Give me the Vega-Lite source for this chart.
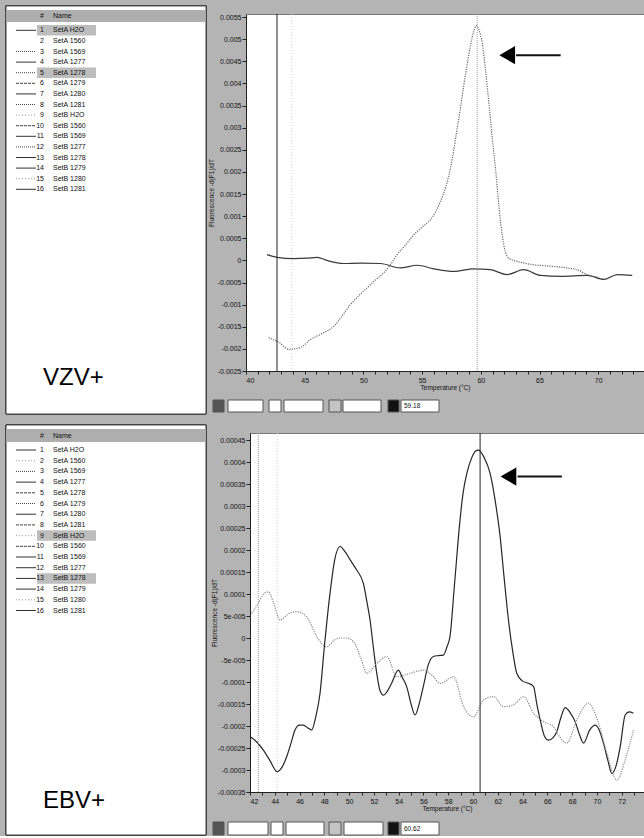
{
  "$schema": "https://vega.github.io/schema/vega-lite/v6.json",
  "background": "#b4b4b4",
  "padding": {"left": 5, "top": 5, "right": 0, "bottom": 0},
  "spacing": 9,
  "config": {
    "font": "Liberation Sans",
    "view": {"stroke": null},
    "axis": {"grid": false, "labelOverlap": false, "labelFont": "Liberation Sans", "titleFont": "Liberation Sans", "labelFontSize": 7, "titleFontSize": 6.5, "titleFontWeight": "normal", "labelColor": "#111", "titleColor": "#111", "tickColor": "#222", "domainColor": "#222"}
  },
  "datasets": {
    "one": [{"id": 1}],
    "listTop": [
      {"n": 1, "name": "SetA H2O", "ln": "solid", "sel": true},
      {"n": 2, "name": "SetA 1560", "ln": "none", "sel": false},
      {"n": 3, "name": "SetA 1569", "ln": "dotted", "sel": false},
      {"n": 4, "name": "SetA 1277", "ln": "solid", "sel": false},
      {"n": 5, "name": "SetA 1278", "ln": "dotted", "sel": true},
      {"n": 6, "name": "SetA 1279", "ln": "dashed", "sel": false},
      {"n": 7, "name": "SetA 1280", "ln": "solid", "sel": false},
      {"n": 8, "name": "SetA 1281", "ln": "dotted", "sel": false},
      {"n": 9, "name": "SetB H2O", "ln": "faint", "sel": false},
      {"n": 10, "name": "SetB 1560", "ln": "dashed", "sel": false},
      {"n": 11, "name": "SetB 1569", "ln": "solid", "sel": false},
      {"n": 12, "name": "SetB 1277", "ln": "dotted", "sel": false},
      {"n": 13, "name": "SetB 1278", "ln": "solid", "sel": false},
      {"n": 14, "name": "SetB 1279", "ln": "solid", "sel": false},
      {"n": 15, "name": "SetB 1280", "ln": "faint", "sel": false},
      {"n": 16, "name": "SetB 1281", "ln": "solid", "sel": false}
    ],
    "listBot": [
      {"n": 1, "name": "SetA H2O", "ln": "solid", "sel": false},
      {"n": 2, "name": "SetA 1560", "ln": "faint", "sel": false},
      {"n": 3, "name": "SetA 1569", "ln": "dotted", "sel": false},
      {"n": 4, "name": "SetA 1277", "ln": "solid", "sel": false},
      {"n": 5, "name": "SetA 1278", "ln": "dashed", "sel": false},
      {"n": 6, "name": "SetA 1279", "ln": "dotted", "sel": false},
      {"n": 7, "name": "SetA 1280", "ln": "solid", "sel": false},
      {"n": 8, "name": "SetA 1281", "ln": "dashed", "sel": false},
      {"n": 9, "name": "SetB H2O", "ln": "faint", "sel": true},
      {"n": 10, "name": "SetB 1560", "ln": "dashed", "sel": false},
      {"n": 11, "name": "SetB 1569", "ln": "solid", "sel": false},
      {"n": 12, "name": "SetB 1277", "ln": "solid", "sel": false},
      {"n": 13, "name": "SetB 1278", "ln": "solid", "sel": true},
      {"n": 14, "name": "SetB 1279", "ln": "solid", "sel": false},
      {"n": 15, "name": "SetB 1280", "ln": "faint", "sel": false},
      {"n": 16, "name": "SetB 1281", "ln": "solid", "sel": false}
    ],
    "curvesTop": [
      {"s": "SetA 1278", "T": 41.93, "v": -0.00175},
      {"s": "SetA 1278", "T": 42.8, "v": -0.00185},
      {"s": "SetA 1278", "T": 43.64, "v": -0.00201},
      {"s": "SetA 1278", "T": 44.63, "v": -0.00197},
      {"s": "SetA 1278", "T": 45.48, "v": -0.00179},
      {"s": "SetA 1278", "T": 46.5, "v": -0.00165},
      {"s": "SetA 1278", "T": 47.47, "v": -0.00149},
      {"s": "SetA 1278", "T": 48.2, "v": -0.00125},
      {"s": "SetA 1278", "T": 48.89, "v": -0.001},
      {"s": "SetA 1278", "T": 49.6, "v": -0.0008},
      {"s": "SetA 1278", "T": 50.31, "v": -0.00062},
      {"s": "SetA 1278", "T": 51.0, "v": -0.00045},
      {"s": "SetA 1278", "T": 51.73, "v": -0.00028},
      {"s": "SetA 1278", "T": 52.3, "v": -0.0001},
      {"s": "SetA 1278", "T": 52.87, "v": 0.00013},
      {"s": "SetA 1278", "T": 53.6, "v": 0.00035},
      {"s": "SetA 1278", "T": 54.29, "v": 0.00058},
      {"s": "SetA 1278", "T": 55.0, "v": 0.00075},
      {"s": "SetA 1278", "T": 55.71, "v": 0.00092},
      {"s": "SetA 1278", "T": 56.2, "v": 0.00112},
      {"s": "SetA 1278", "T": 56.56, "v": 0.00133},
      {"s": "SetA 1278", "T": 57.0, "v": 0.00165},
      {"s": "SetA 1278", "T": 57.41, "v": 0.00208},
      {"s": "SetA 1278", "T": 57.7, "v": 0.0025},
      {"s": "SetA 1278", "T": 57.98, "v": 0.00298},
      {"s": "SetA 1278", "T": 58.3, "v": 0.0035},
      {"s": "SetA 1278", "T": 58.55, "v": 0.00396},
      {"s": "SetA 1278", "T": 58.85, "v": 0.00445},
      {"s": "SetA 1278", "T": 59.12, "v": 0.00486},
      {"s": "SetA 1278", "T": 59.4, "v": 0.00518},
      {"s": "SetA 1278", "T": 59.63, "v": 0.00531},
      {"s": "SetA 1278", "T": 59.85, "v": 0.0052},
      {"s": "SetA 1278", "T": 60.11, "v": 0.00494},
      {"s": "SetA 1278", "T": 60.4, "v": 0.0043},
      {"s": "SetA 1278", "T": 60.68, "v": 0.00358},
      {"s": "SetA 1278", "T": 61.0, "v": 0.0027},
      {"s": "SetA 1278", "T": 61.25, "v": 0.00208},
      {"s": "SetA 1278", "T": 61.55, "v": 0.0012},
      {"s": "SetA 1278", "T": 61.82, "v": 0.00058},
      {"s": "SetA 1278", "T": 62.1, "v": 0.00018},
      {"s": "SetA 1278", "T": 62.39, "v": 0.00005},
      {"s": "SetA 1278", "T": 63.38, "v": -0.00004},
      {"s": "SetA 1278", "T": 64.52, "v": -0.0001},
      {"s": "SetA 1278", "T": 65.94, "v": -0.00013},
      {"s": "SetA 1278", "T": 67.36, "v": -0.00017},
      {"s": "SetA 1278", "T": 68.21, "v": -0.00021},
      {"s": "SetA 1278", "T": 69.06, "v": -0.00032},
      {"s": "SetA 1278", "T": 70.0, "v": -0.00038},
      {"s": "SetA H2O", "T": 41.79, "v": 0.00013},
      {"s": "SetA H2O", "T": 42.64, "v": 0.00007},
      {"s": "SetA H2O", "T": 44.06, "v": 0.00004},
      {"s": "SetA H2O", "T": 45.2, "v": 0.00005},
      {"s": "SetA H2O", "T": 46.05, "v": 0.00007},
      {"s": "SetA H2O", "T": 46.9, "v": 0.0},
      {"s": "SetA H2O", "T": 48.32, "v": -0.00007},
      {"s": "SetA H2O", "T": 49.74, "v": -0.00006},
      {"s": "SetA H2O", "T": 51.45, "v": -0.00007},
      {"s": "SetA H2O", "T": 53.15, "v": -0.00017},
      {"s": "SetA H2O", "T": 54.57, "v": -0.00011},
      {"s": "SetA H2O", "T": 55.99, "v": -0.00019},
      {"s": "SetA H2O", "T": 57.7, "v": -0.00025},
      {"s": "SetA H2O", "T": 59.4, "v": -0.00019},
      {"s": "SetA H2O", "T": 60.82, "v": -0.00021},
      {"s": "SetA H2O", "T": 62.24, "v": -0.00032},
      {"s": "SetA H2O", "T": 63.66, "v": -0.00021},
      {"s": "SetA H2O", "T": 65.09, "v": -0.00034},
      {"s": "SetA H2O", "T": 66.79, "v": -0.00036},
      {"s": "SetA H2O", "T": 69.06, "v": -0.00034},
      {"s": "SetA H2O", "T": 70.48, "v": -0.00043},
      {"s": "SetA H2O", "T": 71.62, "v": -0.00032},
      {"s": "SetA H2O", "T": 72.9, "v": -0.00034}
    ],
    "curvesBot": [
      {"s": "SetB 1278", "T": 42.0, "v": -0.000224},
      {"s": "SetB 1278", "T": 42.6, "v": -0.000238},
      {"s": "SetB 1278", "T": 43.08, "v": -0.000255},
      {"s": "SetB 1278", "T": 43.6, "v": -0.000278},
      {"s": "SetB 1278", "T": 44.2, "v": -0.000304},
      {"s": "SetB 1278", "T": 44.6, "v": -0.000293},
      {"s": "SetB 1278", "T": 44.96, "v": -0.00027},
      {"s": "SetB 1278", "T": 45.3, "v": -0.00024},
      {"s": "SetB 1278", "T": 45.63, "v": -0.000209},
      {"s": "SetB 1278", "T": 46.0, "v": -0.000198},
      {"s": "SetB 1278", "T": 46.31, "v": -0.000198},
      {"s": "SetB 1278", "T": 46.7, "v": -0.000205},
      {"s": "SetB 1278", "T": 46.98, "v": -0.000209},
      {"s": "SetB 1278", "T": 47.3, "v": -0.00018},
      {"s": "SetB 1278", "T": 47.65, "v": -0.000126},
      {"s": "SetB 1278", "T": 48.0, "v": -0.00002},
      {"s": "SetB 1278", "T": 48.46, "v": 0.000102},
      {"s": "SetB 1278", "T": 48.85, "v": 0.00018},
      {"s": "SetB 1278", "T": 49.27, "v": 0.000208},
      {"s": "SetB 1278", "T": 49.7, "v": 0.000195},
      {"s": "SetB 1278", "T": 50.1, "v": 0.000177},
      {"s": "SetB 1278", "T": 50.6, "v": 0.000155},
      {"s": "SetB 1278", "T": 51.15, "v": 0.000124},
      {"s": "SetB 1278", "T": 51.45, "v": 0.00008},
      {"s": "SetB 1278", "T": 51.69, "v": 0.000041},
      {"s": "SetB 1278", "T": 51.95, "v": -0.00002},
      {"s": "SetB 1278", "T": 52.23, "v": -0.00008},
      {"s": "SetB 1278", "T": 52.5, "v": -0.00012},
      {"s": "SetB 1278", "T": 52.77, "v": -0.00013},
      {"s": "SetB 1278", "T": 53.1, "v": -0.00012},
      {"s": "SetB 1278", "T": 53.43, "v": -0.000103},
      {"s": "SetB 1278", "T": 53.97, "v": -0.000073},
      {"s": "SetB 1278", "T": 54.3, "v": -0.00009},
      {"s": "SetB 1278", "T": 54.64, "v": -0.00011},
      {"s": "SetB 1278", "T": 55.0, "v": -0.00015},
      {"s": "SetB 1278", "T": 55.32, "v": -0.000175},
      {"s": "SetB 1278", "T": 55.65, "v": -0.00015},
      {"s": "SetB 1278", "T": 55.99, "v": -0.00011},
      {"s": "SetB 1278", "T": 56.4, "v": -0.00006},
      {"s": "SetB 1278", "T": 56.8, "v": -0.000042},
      {"s": "SetB 1278", "T": 57.2, "v": -0.00004},
      {"s": "SetB 1278", "T": 57.6, "v": -0.000039},
      {"s": "SetB 1278", "T": 57.9, "v": -0.00002},
      {"s": "SetB 1278", "T": 58.14, "v": 0.000003},
      {"s": "SetB 1278", "T": 58.5, "v": 0.00012},
      {"s": "SetB 1278", "T": 58.95, "v": 0.000268},
      {"s": "SetB 1278", "T": 59.2, "v": 0.00033},
      {"s": "SetB 1278", "T": 59.5, "v": 0.000374},
      {"s": "SetB 1278", "T": 59.9, "v": 0.00041},
      {"s": "SetB 1278", "T": 60.2, "v": 0.000425},
      {"s": "SetB 1278", "T": 60.44, "v": 0.000427},
      {"s": "SetB 1278", "T": 60.9, "v": 0.00041},
      {"s": "SetB 1278", "T": 61.38, "v": 0.000374},
      {"s": "SetB 1278", "T": 61.8, "v": 0.00031},
      {"s": "SetB 1278", "T": 62.19, "v": 0.00023},
      {"s": "SetB 1278", "T": 62.5, "v": 0.00014},
      {"s": "SetB 1278", "T": 62.86, "v": 0.000041},
      {"s": "SetB 1278", "T": 63.2, "v": -0.00003},
      {"s": "SetB 1278", "T": 63.53, "v": -0.00008},
      {"s": "SetB 1278", "T": 64.0, "v": -0.000098},
      {"s": "SetB 1278", "T": 64.48, "v": -0.000103},
      {"s": "SetB 1278", "T": 64.88, "v": -0.00011},
      {"s": "SetB 1278", "T": 65.15, "v": -0.00015},
      {"s": "SetB 1278", "T": 65.42, "v": -0.000186},
      {"s": "SetB 1278", "T": 65.75, "v": -0.000222},
      {"s": "SetB 1278", "T": 66.09, "v": -0.000232},
      {"s": "SetB 1278", "T": 66.4, "v": -0.000228},
      {"s": "SetB 1278", "T": 66.76, "v": -0.000213},
      {"s": "SetB 1278", "T": 67.1, "v": -0.00018},
      {"s": "SetB 1278", "T": 67.44, "v": -0.000158},
      {"s": "SetB 1278", "T": 67.85, "v": -0.00017},
      {"s": "SetB 1278", "T": 68.24, "v": -0.00019},
      {"s": "SetB 1278", "T": 68.6, "v": -0.00022},
      {"s": "SetB 1278", "T": 68.92, "v": -0.000239},
      {"s": "SetB 1278", "T": 69.4, "v": -0.00021},
      {"s": "SetB 1278", "T": 69.86, "v": -0.000198},
      {"s": "SetB 1278", "T": 70.2, "v": -0.00021},
      {"s": "SetB 1278", "T": 70.53, "v": -0.000239},
      {"s": "SetB 1278", "T": 70.9, "v": -0.00028},
      {"s": "SetB 1278", "T": 71.2, "v": -0.000308},
      {"s": "SetB 1278", "T": 71.55, "v": -0.00029},
      {"s": "SetB 1278", "T": 71.88, "v": -0.000247},
      {"s": "SetB 1278", "T": 72.28, "v": -0.000175},
      {"s": "SetB 1278", "T": 72.6, "v": -0.000168},
      {"s": "SetB 1278", "T": 72.95, "v": -0.000171},
      {"s": "SetB H2O", "T": 42.13, "v": 0.000056},
      {"s": "SetB H2O", "T": 42.67, "v": 0.000079},
      {"s": "SetB H2O", "T": 43.1, "v": 0.0001},
      {"s": "SetB H2O", "T": 43.48, "v": 0.000105},
      {"s": "SetB H2O", "T": 43.9, "v": 0.00008},
      {"s": "SetB H2O", "T": 44.42, "v": 0.000041},
      {"s": "SetB H2O", "T": 45.1, "v": 0.000055},
      {"s": "SetB H2O", "T": 45.77, "v": 0.00006},
      {"s": "SetB H2O", "T": 46.58, "v": 0.000048},
      {"s": "SetB H2O", "T": 47.39, "v": 0.000003},
      {"s": "SetB H2O", "T": 48.19, "v": -0.00002},
      {"s": "SetB H2O", "T": 48.8, "v": -0.000005},
      {"s": "SetB H2O", "T": 49.27, "v": 0.0},
      {"s": "SetB H2O", "T": 49.8, "v": 0.0},
      {"s": "SetB H2O", "T": 50.35, "v": -0.000008},
      {"s": "SetB H2O", "T": 51.0, "v": -0.00005},
      {"s": "SetB H2O", "T": 51.42, "v": -0.00008},
      {"s": "SetB H2O", "T": 52.23, "v": -0.000058},
      {"s": "SetB H2O", "T": 53.04, "v": -0.000042},
      {"s": "SetB H2O", "T": 53.85, "v": -0.000088},
      {"s": "SetB H2O", "T": 54.93, "v": -0.00008},
      {"s": "SetB H2O", "T": 56.01, "v": -0.000073},
      {"s": "SetB H2O", "T": 56.7, "v": -0.000085},
      {"s": "SetB H2O", "T": 57.36, "v": -0.000103},
      {"s": "SetB H2O", "T": 58.43, "v": -0.000088},
      {"s": "SetB H2O", "T": 59.24, "v": -0.000156},
      {"s": "SetB H2O", "T": 60.04, "v": -0.000179},
      {"s": "SetB H2O", "T": 60.85, "v": -0.000141},
      {"s": "SetB H2O", "T": 61.65, "v": -0.000133},
      {"s": "SetB H2O", "T": 62.46, "v": -0.000156},
      {"s": "SetB H2O", "T": 63.27, "v": -0.000152},
      {"s": "SetB H2O", "T": 64.08, "v": -0.000133},
      {"s": "SetB H2O", "T": 64.88, "v": -0.000171},
      {"s": "SetB H2O", "T": 65.69, "v": -0.00019},
      {"s": "SetB H2O", "T": 66.5, "v": -0.000202},
      {"s": "SetB H2O", "T": 67.0, "v": -0.000225},
      {"s": "SetB H2O", "T": 67.57, "v": -0.000239},
      {"s": "SetB H2O", "T": 68.38, "v": -0.000186},
      {"s": "SetB H2O", "T": 69.32, "v": -0.000148},
      {"s": "SetB H2O", "T": 70.13, "v": -0.000194},
      {"s": "SetB H2O", "T": 70.8, "v": -0.000262},
      {"s": "SetB H2O", "T": 71.61, "v": -0.000323},
      {"s": "SetB H2O", "T": 72.28, "v": -0.000277},
      {"s": "SetB H2O", "T": 72.95, "v": -0.000209}
    ],
    "statusTop": [
      {"k": "dark", "a": 4, "b": 15},
      {"k": "white", "a": 19, "b": 54},
      {"k": "white", "a": 60, "b": 72},
      {"k": "white", "a": 75, "b": 114},
      {"k": "gray", "a": 120, "b": 132},
      {"k": "white", "a": 134, "b": 172},
      {"k": "black", "a": 179, "b": 190},
      {"k": "white", "a": 192, "b": 230, "t": "59.18"}
    ],
    "statusBot": [
      {"k": "dark", "a": 4, "b": 15},
      {"k": "white", "a": 19, "b": 59},
      {"k": "white", "a": 62, "b": 74},
      {"k": "white", "a": 77, "b": 115},
      {"k": "gray", "a": 120, "b": 132},
      {"k": "white", "a": 135, "b": 174},
      {"k": "black", "a": 179, "b": 190},
      {"k": "white", "a": 192, "b": 230, "t": "60.62"}
    ]
  },
  "vconcat": [
    {
      "spacing": 0,
      "hconcat": [
        {
          "width": 200, "height": 400,
          "data": {"name": "listTop"},
          "layer": [
            {"mark": {"type": "rect", "fill": "#ffffff", "stroke": "#444", "strokeWidth": 1},
             "encoding": {"x": {"datum": 0, "type": "quantitative", "scale": {"domain": [0, 200], "nice": false}, "axis": null}, "x2": {"datum": 200},
                          "y": {"datum": -1.3, "type": "quantitative", "scale": {"domain": [-0.54, 37.2], "nice": false, "zero": false, "reverse": true}, "axis": null}, "y2": {"datum": 37.2}}},
            {"mark": {"type": "rect", "fill": "#aeaeae"},
             "encoding": {"x": {"datum": 0.5, "type": "quantitative"}, "x2": {"datum": 199.5}, "y": {"datum": -0.92, "type": "quantitative"}, "y2": {"datum": 0.2}}},
            {"mark": {"type": "rule", "strokeWidth": 10.5, "color": "#bdbdbd"}, "transform": [{"filter": "datum.sel"}],
             "encoding": {"x": {"datum": 31, "type": "quantitative"}, "x2": {"datum": 90}, "y": {"field": "n", "type": "quantitative"}}},
            {"mark": {"type": "rule", "strokeWidth": 1},
             "encoding": {"x": {"datum": 10, "type": "quantitative"}, "x2": {"datum": 30}, "y": {"field": "n", "type": "quantitative"},
                          "strokeDash": {"field": "ln", "type": "nominal", "scale": {"domain": ["solid", "dotted", "dashed", "faint", "none"], "range": [[1, 0], [1, 1], [3, 1], [1, 2], [1, 0]]}, "legend": null},
                          "color": {"field": "ln", "type": "nominal", "scale": {"domain": ["solid", "dotted", "dashed", "faint", "none"], "range": ["#333", "#444", "#444", "#999", "#ffffff"]}, "legend": null}}},
            {"mark": {"type": "text", "align": "right", "baseline": "middle", "fontSize": 7, "color": "#111"},
             "encoding": {"x": {"datum": 38, "type": "quantitative"}, "y": {"field": "n", "type": "quantitative"}, "text": {"field": "n"}}},
            {"mark": {"type": "text", "align": "left", "baseline": "middle", "fontSize": 7, "color": "#111"},
             "encoding": {"x": {"datum": 47, "type": "quantitative"}, "y": {"field": "n", "type": "quantitative"}, "text": {"field": "name"}}},
            {"data": {"values": [{"h": "#", "x": 34}, {"h": "Name", "x": 47}]},
             "mark": {"type": "text", "align": "left", "baseline": "middle", "fontSize": 7, "color": "#111"},
             "encoding": {"x": {"field": "x", "type": "quantitative"}, "y": {"datum": -0.35, "type": "quantitative"}, "text": {"field": "h"}}},
            {"data": {"values": [{"label": "VZV+"}]},
             "mark": {"type": "text", "align": "left", "baseline": "middle", "fontSize": 24, "color": "#000"},
             "encoding": {"x": {"datum": 37, "type": "quantitative"}, "y": {"datum": 33.8, "type": "quantitative"}, "text": {"field": "label"}}}
          ]
        },
        {
          "width": 398, "height": 357,
          "view": {"fill": "white", "stroke": "#777"},
          "resolve": {"scale": {"x": "independent", "y": "independent"}},
          "layer": [
            {
              "data": {"name": "curvesTop"},
              "layer": [
                {"transform": [{"filter": "datum.s == 'SetA H2O'"}],
                 "mark": {"type": "line", "strokeWidth": 1.2, "interpolate": "monotone", "color": "#3a3a3a"},
                 "encoding": {
                   "x": {"field": "T", "type": "quantitative", "scale": {"domain": [40, 73.9], "nice": false, "zero": false},
                         "axis": {"title": "Temperature (°C)", "values": [40,41,42,43,44,45,46,47,48,49,50,51,52,53,54,55,56,57,58,59,60,61,62,63,64,65,66,67,68,69,70,71,72,73], "tickCount": 100, "labelExpr": "datum.value % 5 == 0 ? '' + datum.value : ''", "labelOverlap": false, "labelBound": false, "tickSize": 3, "labelPadding": 2, "titlePadding": 1}},
                   "y": {"field": "v", "type": "quantitative", "scale": {"domain": [-0.0025, 0.00557], "nice": false, "zero": false},
                         "axis": {"title": "Fluorescence -d(F1)/dT", "values": [0.0055,0.005,0.0045,0.004,0.0035,0.003,0.0025,0.002,0.0015,0.001,0.0005,0,-0.0005,-0.001,-0.0015,-0.002,-0.0025], "tickCount": 100, "labelExpr": "'' + datum.value", "labelOverlap": false, "labelBound": false, "tickSize": 4, "labelPadding": 1, "minExtent": 30, "maxExtent": 30, "titlePadding": 2}}
                 }},
                {"transform": [{"filter": "datum.s == 'SetA 1278'"}],
                 "mark": {"type": "line", "strokeWidth": 1.2, "interpolate": "monotone", "color": "#6a6a6a", "strokeDash": [1.2, 1.2]},
                 "encoding": {"x": {"field": "T", "type": "quantitative"}, "y": {"field": "v", "type": "quantitative"}}},
                {"data": {"name": "one"}, "mark": {"type": "rule", "color": "#222", "strokeWidth": 1}, "encoding": {"x": {"datum": 42.64, "type": "quantitative"}}},
                {"data": {"name": "one"}, "mark": {"type": "rule", "color": "#cfcfcf", "strokeWidth": 1, "strokeDash": [1, 2]}, "encoding": {"x": {"datum": 43.9, "type": "quantitative"}}},
                {"data": {"name": "one"}, "mark": {"type": "rule", "color": "#a0a0a0", "strokeWidth": 1, "strokeDash": [1, 1]}, "encoding": {"x": {"datum": 59.69, "type": "quantitative"}}},
                {"data": {"name": "one"}, "mark": {"type": "rule", "color": "#111", "strokeWidth": 2}, "encoding": {"x": {"datum": 63.0, "type": "quantitative"}, "x2": {"datum": 66.8}, "y": {"datum": 0.00464, "type": "quantitative"}}},
                {"data": {"name": "one"}, "mark": {"type": "point", "shape": "triangle-left", "filled": true, "color": "#000", "size": 330, "opacity": 1}, "encoding": {"x": {"datum": 62.25, "type": "quantitative"}, "y": {"datum": 0.00464, "type": "quantitative"}}}
              ]
            },
            {
              "data": {"name": "statusTop"},
              "layer": [
                {"mark": {"type": "rect", "stroke": "#555", "strokeWidth": 1},
                 "encoding": {"x": {"field": "a", "type": "quantitative", "scale": {"domain": [37, 435], "nice": false, "zero": false}, "axis": null}, "x2": {"field": "b"},
                              "y": {"datum": -29, "type": "quantitative", "scale": {"domain": [0, 357], "nice": false, "zero": false}, "axis": null}, "y2": {"datum": -41},
                              "fill": {"field": "k", "type": "nominal", "scale": {"domain": ["dark", "white", "gray", "black"], "range": ["#555", "#ffffff", "#c4c4c4", "#111"]}, "legend": null}}},
                {"transform": [{"filter": "datum.t"}],
                 "mark": {"type": "text", "align": "left", "baseline": "middle", "fontSize": 6.5, "dx": 3, "color": "#111"},
                 "encoding": {"x": {"field": "a", "type": "quantitative"}, "y": {"datum": -35, "type": "quantitative"}, "text": {"field": "t"}}}
              ]
            }
          ]
        }
      ]
    },
    {
      "spacing": 3,
      "hconcat": [
        {
          "width": 200, "height": 402,
          "data": {"name": "listBot"},
          "layer": [
            {"mark": {"type": "rect", "fill": "#ffffff", "stroke": "#444", "strokeWidth": 1},
             "encoding": {"x": {"datum": 0, "type": "quantitative", "scale": {"domain": [0, 200], "nice": false}, "axis": null}, "x2": {"datum": 200},
                          "y": {"datum": -1.34, "type": "quantitative", "scale": {"domain": [-0.59, 36.98], "nice": false, "zero": false, "reverse": true}, "axis": null}, "y2": {"datum": 36.98}}},
            {"mark": {"type": "rect", "fill": "#aeaeae"},
             "encoding": {"x": {"datum": 0.5, "type": "quantitative"}, "x2": {"datum": 199.5}, "y": {"datum": -0.92, "type": "quantitative"}, "y2": {"datum": 0.2}}},
            {"mark": {"type": "rule", "strokeWidth": 10.5, "color": "#bdbdbd"}, "transform": [{"filter": "datum.sel"}],
             "encoding": {"x": {"datum": 31, "type": "quantitative"}, "x2": {"datum": 90}, "y": {"field": "n", "type": "quantitative"}}},
            {"mark": {"type": "rule", "strokeWidth": 1},
             "encoding": {"x": {"datum": 10, "type": "quantitative"}, "x2": {"datum": 30}, "y": {"field": "n", "type": "quantitative"},
                          "strokeDash": {"field": "ln", "type": "nominal", "scale": {"domain": ["solid", "dotted", "dashed", "faint", "none"], "range": [[1, 0], [1, 1], [3, 1], [1, 2], [1, 0]]}, "legend": null},
                          "color": {"field": "ln", "type": "nominal", "scale": {"domain": ["solid", "dotted", "dashed", "faint", "none"], "range": ["#333", "#444", "#444", "#999", "#ffffff"]}, "legend": null}}},
            {"mark": {"type": "text", "align": "right", "baseline": "middle", "fontSize": 7, "color": "#111"},
             "encoding": {"x": {"datum": 38, "type": "quantitative"}, "y": {"field": "n", "type": "quantitative"}, "text": {"field": "n"}}},
            {"mark": {"type": "text", "align": "left", "baseline": "middle", "fontSize": 7, "color": "#111"},
             "encoding": {"x": {"datum": 47, "type": "quantitative"}, "y": {"field": "n", "type": "quantitative"}, "text": {"field": "name"}}},
            {"data": {"values": [{"h": "#", "x": 34}, {"h": "Name", "x": 47}]},
             "mark": {"type": "text", "align": "left", "baseline": "middle", "fontSize": 7, "color": "#111"},
             "encoding": {"x": {"field": "x", "type": "quantitative"}, "y": {"datum": -0.35, "type": "quantitative"}, "text": {"field": "h"}}},
            {"data": {"values": [{"label": "EBV+"}]},
             "mark": {"type": "text", "align": "left", "baseline": "middle", "fontSize": 24, "color": "#000"},
             "encoding": {"x": {"datum": 37, "type": "quantitative"}, "y": {"datum": 33.8, "type": "quantitative"}, "text": {"field": "label"}}}
          ]
        },
        {
          "width": 394, "height": 359,
          "view": {"fill": "white", "stroke": "#777"},
          "resolve": {"scale": {"x": "independent", "y": "independent"}},
          "layer": [
            {
              "data": {"name": "curvesBot"},
              "layer": [
                {"transform": [{"filter": "datum.s == 'SetB 1278'"}],
                 "mark": {"type": "line", "strokeWidth": 1.2, "interpolate": "monotone", "color": "#262626"},
                 "encoding": {
                   "x": {"field": "T", "type": "quantitative", "scale": {"domain": [42, 73.8], "nice": false, "zero": false},
                         "axis": {"title": "Temperature (°C)", "values": [42,43,44,45,46,47,48,49,50,51,52,53,54,55,56,57,58,59,60,61,62,63,64,65,66,67,68,69,70,71,72,73], "tickCount": 100, "labelExpr": "datum.value % 2 == 0 ? '' + datum.value : ''", "labelOverlap": false, "labelBound": false, "tickSize": 3, "labelPadding": 2, "titlePadding": 1}},
                   "y": {"field": "v", "type": "quantitative", "scale": {"domain": [-0.00035, 0.000466], "nice": false, "zero": false},
                         "axis": {"title": "Fluorescence -d(F1)/dT", "values": [0.00045,0.0004,0.00035,0.0003,0.00025,0.0002,0.00015,0.0001,0.00005,0,-0.00005,-0.0001,-0.00015,-0.0002,-0.00025,-0.0003,-0.00035], "tickCount": 100, "labelExpr": "abs(datum.value - 0.00005) < 1e-10 ? '5e-005' : (abs(datum.value + 0.00005) < 1e-10 ? '-5e-005' : '' + datum.value)", "labelOverlap": false, "labelBound": false, "tickSize": 4, "labelPadding": 1, "minExtent": 31, "maxExtent": 31, "titlePadding": 2}}
                 }},
                {"transform": [{"filter": "datum.s == 'SetB H2O'"}],
                 "mark": {"type": "line", "strokeWidth": 1.2, "interpolate": "monotone", "color": "#8a8a8a", "strokeDash": [1.2, 1.2]},
                 "encoding": {"x": {"field": "T", "type": "quantitative"}, "y": {"field": "v", "type": "quantitative"}}},
                {"data": {"name": "one"}, "mark": {"type": "rule", "color": "#999", "strokeWidth": 1, "strokeDash": [1, 1]}, "encoding": {"x": {"datum": 42.67, "type": "quantitative"}}},
                {"data": {"name": "one"}, "mark": {"type": "rule", "color": "#d0d0d0", "strokeWidth": 1, "strokeDash": [1, 2]}, "encoding": {"x": {"datum": 44.2, "type": "quantitative"}}},
                {"data": {"name": "one"}, "mark": {"type": "rule", "color": "#222", "strokeWidth": 1}, "encoding": {"x": {"datum": 60.57, "type": "quantitative"}}},
                {"data": {"name": "one"}, "mark": {"type": "rule", "color": "#111", "strokeWidth": 2}, "encoding": {"x": {"datum": 63.6, "type": "quantitative"}, "x2": {"datum": 67.17}, "y": {"datum": 0.000367, "type": "quantitative"}}},
                {"data": {"name": "one"}, "mark": {"type": "point", "shape": "triangle-left", "filled": true, "color": "#000", "size": 330, "opacity": 1}, "encoding": {"x": {"datum": 62.86, "type": "quantitative"}, "y": {"datum": 0.000367, "type": "quantitative"}}}
              ]
            },
            {
              "data": {"name": "statusBot"},
              "layer": [
                {"mark": {"type": "rect", "stroke": "#555", "strokeWidth": 1},
                 "encoding": {"x": {"field": "a", "type": "quantitative", "scale": {"domain": [41, 435], "nice": false, "zero": false}, "axis": null}, "x2": {"field": "b"},
                              "y": {"datum": -30, "type": "quantitative", "scale": {"domain": [0, 359], "nice": false, "zero": false}, "axis": null}, "y2": {"datum": -43},
                              "fill": {"field": "k", "type": "nominal", "scale": {"domain": ["dark", "white", "gray", "black"], "range": ["#555", "#ffffff", "#c4c4c4", "#111"]}, "legend": null}}},
                {"transform": [{"filter": "datum.t"}],
                 "mark": {"type": "text", "align": "left", "baseline": "middle", "fontSize": 6.5, "dx": 3, "color": "#111"},
                 "encoding": {"x": {"field": "a", "type": "quantitative"}, "y": {"datum": -36.5, "type": "quantitative"}, "text": {"field": "t"}}}
              ]
            }
          ]
        }
      ]
    }
  ]
}
